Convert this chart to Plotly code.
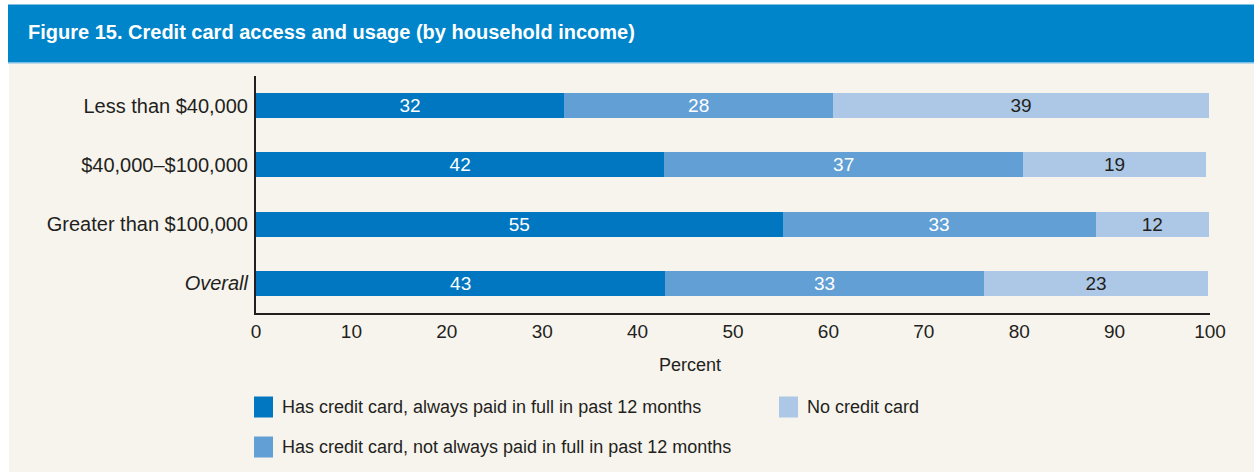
import plotly.graph_objects as go

# ---- data ----
categories = ["Less than $40,000", "$40,000–$100,000", "Greater than $100,000", "Overall"]
category_labels = ["Less than $40,000", "$40,000–$100,000", "Greater than $100,000", "<i>Overall</i>"]
series_names = [
    "Has credit card, always paid in full in past 12 months",
    "Has credit card, not always paid in full in past 12 months",
    "No credit card",
]
paid_full = [32.3, 42.8, 55.2, 42.9]
not_paid_full = [28.2, 37.6, 32.8, 33.4]
no_card = [39.4, 19.2, 11.9, 23.5]
paid_full_labels = ["32", "42", "55", "43"]
not_paid_full_labels = ["28", "37", "33", "33"]
no_card_labels = ["39", "19", "12", "23"]
x_ticks = [0, 10, 20, 30, 40, 50, 60, 70, 80, 90, 100]

# ---- style ----
FONT = "Liberation Sans, Arial, sans-serif"
TXT = "#231f20"
colors = ["#0077c0", "#629fd4", "#adc8e6"]
text_colors = ["white", "white", TXT]
W, H = 1254, 472
L, R, T, B = 256, 44, 76, 159
pw, ph = W - L - R, H - T - B


def px(x):
    return (x - L) / pw


def py(y):
    return (H - B - y) / ph


fig = go.Figure()
vals = [paid_full, not_paid_full, no_card]
labs = [paid_full_labels, not_paid_full_labels, no_card_labels]
for name, v, lab, c, tc in zip(series_names, vals, labs, colors, text_colors):
    fig.add_trace(go.Bar(
        y=categories, x=v, name=name, orientation="h",
        marker=dict(color=c, line=dict(width=0)),
        text=lab, textposition="inside", insidetextanchor="middle",
        textfont=dict(family=FONT, size=19, color=tc),
        constraintext="none", showlegend=False, hoverinfo="skip",
    ))

shapes = [
    dict(type="rect", xref="paper", yref="paper", x0=px(9), x1=px(W + 5), y0=py(H + 5), y1=py(63),
         fillcolor="#f7f4ee", line=dict(width=0), layer="below"),
    dict(type="rect", xref="paper", yref="paper", x0=px(8), x1=px(W + 5), y0=py(62.5), y1=py(4.5),
         fillcolor="#0085ca", line=dict(width=0), layer="below"),
    dict(type="line", xref="paper", yref="paper", x0=px(8), x1=px(W + 5), y0=py(63), y1=py(63),
         line=dict(color="#7cbbe6", width=1), layer="below"),
]
annotations = [
    dict(text="<b>Figure 15. Credit card access and usage (by household income)</b>",
         xref="paper", yref="paper", x=px(26), y=py(32), xanchor="left", yanchor="middle",
         showarrow=False, font=dict(family=FONT, size=20, color="white")),
    dict(text="Percent", xref="paper", yref="paper", x=px(690), y=py(365),
         xanchor="center", yanchor="middle", showarrow=False,
         font=dict(family=FONT, size=18, color=TXT)),
]

# custom legend (column-major layout like the reference)
legend_pos = [(254, 407), (254, 447), (779, 407)]
for (lx, ly), name, c in zip(legend_pos, series_names, colors):
    shapes.append(dict(type="rect", xref="paper", yref="paper",
                       x0=px(lx), x1=px(lx + 19), y0=py(ly + 10.5), y1=py(ly - 10.5),
                       fillcolor=c, line=dict(width=0)))
    annotations.append(dict(text=name, xref="paper", yref="paper", x=px(lx + 26), y=py(ly),
                            xanchor="left", yanchor="middle", showarrow=False,
                            font=dict(family=FONT, size=18, color=TXT)))

fig.update_layout(
    width=W, height=H,
    margin=dict(l=L, r=R, t=T, b=B, pad=0),
    paper_bgcolor="white", plot_bgcolor="rgba(0,0,0,0)",
    barmode="stack", bargap=0.578,
    showlegend=False,
    shapes=shapes, annotations=annotations,
    font=dict(family=FONT, size=18, color=TXT),
    xaxis=dict(range=[0, 100], tickvals=x_ticks, showgrid=False, zeroline=False,
               showline=True, linecolor=TXT, linewidth=2, ticks="",
               ticklabelstandoff=0,
               tickfont=dict(family=FONT, size=19, color=TXT), fixedrange=True),
    yaxis=dict(categoryorder="array", categoryarray=categories,
               tickvals=categories, ticktext=category_labels,
               range=[3.5, -0.5], showgrid=False, zeroline=False,
               showline=True, linecolor=TXT, linewidth=2, ticks="",
               ticklabelstandoff=2,
               tickfont=dict(family=FONT, size=20, color=TXT), fixedrange=True),
)

fig.write_html("out.html", post_script="document.body.style.margin='0';",
               config={"displayModeBar": False})
